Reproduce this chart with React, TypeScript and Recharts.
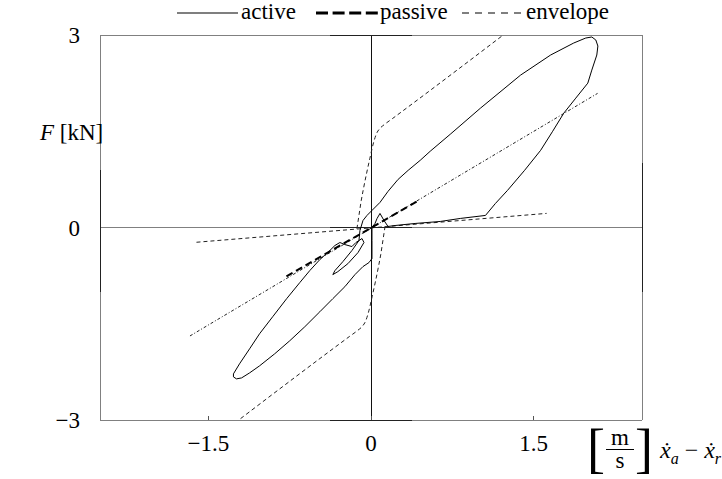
import React from 'react';
import { ComposedChart, Line, XAxis, YAxis, ReferenceLine } from 'recharts';

// active (controlled) force-velocity loop
const activeX = [
  -1.269, -1.213, -1.12, -1.028, -0.907, -0.778, -0.657, -0.565, -0.472, -0.38,
  -0.333, -0.287, -0.241, -0.176, -0.139, -0.083, -0.065, -0.12, -0.213, -0.306,
  -0.352, -0.333, -0.259, -0.176, -0.111, -0.102, -0.074, -0.037, 0.009, 0.083,
  0.157, 0.25, 0.343, 0.454, 0.546, 0.731, 1.009, 1.38, 1.657, 1.87, 1.981,
  2.037, 2.074, 2.093, 2.083, 2.037, 2.0, 1.889, 1.778, 1.676, 1.565,
  1.417, 1.259, 1.148, 1.056, 0.824, 0.639, 0.407, 0.222, 0.157, 0.12,
  0.083, 0.056, 0.037, 0.009, 0.009, 0.009, -0.019, -0.074, -0.148, -0.241,
  -0.352, -0.472, -0.611, -0.75, -0.889, -1.028, -1.12, -1.194, -1.241, -1.269,
  -1.269,
];
const activeY = [
  -2.281, -2.125, -1.891, -1.656, -1.391, -1.109, -0.859, -0.672, -0.5, -0.359,
  -0.281, -0.234, -0.266, -0.297, -0.234, -0.172, -0.234, -0.391, -0.563, -0.688,
  -0.734, -0.672, -0.531, -0.359, -0.203, -0.047, 0.109, 0.188, 0.266, 0.391,
  0.563, 0.75, 0.891, 1.047, 1.188, 1.453, 1.859, 2.375, 2.688, 2.875, 2.953,
  2.969, 2.922, 2.828, 2.688, 2.453, 2.25, 2.016, 1.781, 1.5, 1.203,
  0.891, 0.578, 0.375, 0.188, 0.141, 0.094, 0.063, 0.031, 0.016, 0.109,
  0.219, 0.141, 0.063, 0.0, -0.203, -0.484, -0.547, -0.609, -0.734, -0.922,
  -1.109, -1.313, -1.547, -1.766, -1.969, -2.156, -2.266, -2.344, -2.359, -2.328,
  -2.281,
];

// passive damper
const passiveX = [-0.78, 0.45];
const passiveY = [-0.76, 0.43];

// envelopes
const upperX = [-0.13, -0.11, -0.09, -0.07, -0.04, -0.01, 0.02, 0.05, 0.08, 0.12, 0.2, 1.22];
const upperY = [-0.02, 0.2, 0.42, 0.6, 0.85, 1.08, 1.3, 1.46, 1.54, 1.6, 1.7, 3.0];
const lowerX = upperX.map((v) => -v);
const lowerY = upperY.map((v) => -v);
const flatX = [-1.61, 1.62];
const flatY = [-0.23, 0.22];
const midX = [-1.67, 2.09];
const midY = [-1.69, 2.09];

const xTicks = [-1.5, 0, 1.5];
const yTicks = [-3, 0, 3];
const xDomain = [-2.5, 2.5];
const yDomain = [-3, 3];

const FONT = '"Liberation Serif", serif';

const pts = (xs: number[], ys: number[]) => xs.map((x, i) => ({ x, y: ys[i] }));

const fmt = (v: number) => (v < 0 ? '\u2212' + Math.abs(v) : String(v));

const [x0, x1] = xDomain;
const [y0, y1] = yDomain;

// frame pieces: from, to, colour
const frame: [number, number, number, number, string][] = [
  [x0, y1, x1, y1, '#808080'],
  [x0, y0, x1, y0, '#808080'],
  [x0, y0, x0, y1, '#808080'],
  [x1, y0, x1, y1, '#808080'],
  [x0, 0, x1, 0, '#808080'],
  [0, y0, 0, y1, '#111'],
  [-0.38, y1, 0.38, y1, '#222'],
  [-0.38, y0, 0.38, y0, '#222'],
  [-0.38, 0, 0.38, 0, '#222'],
  [x0, -1.0, x0, 0.9, '#222'],
  [x1, -1.0, x1, 1.0, '#222'],
];

const App = () => {
  return (
    <div style={{ position: 'absolute', left: 0, top: 0, width: 722, height: 479, background: '#fff', fontFamily: FONT }}>
      <ComposedChart width={722} height={479} margin={{ top: 35, right: 80, left: 20, bottom: 19 }}>
        <XAxis
          type="number"
          dataKey="x"
          domain={xDomain}
          ticks={xTicks}
          tickFormatter={fmt}
          axisLine={false}
          tickLine={false}
          tickSize={0}
          tickMargin={15}
          height={40}
          tick={{ fontFamily: FONT, fontSize: 23, fill: '#000' }}
          allowDataOverflow
        />
        <YAxis
          type="number"
          dataKey="y"
          domain={yDomain}
          ticks={yTicks}
          tickFormatter={fmt}
          axisLine={false}
          tickLine={false}
          tickSize={0}
          tickMargin={20}
          width={80}
          tick={{ fontFamily: FONT, fontSize: 23, fill: '#000' }}
          allowDataOverflow
        />

        {frame.map(([ax, ay, bx, by, c], i) => (
          <ReferenceLine
            key={'f' + i}
            segment={[{ x: ax, y: ay }, { x: bx, y: by }]}
            stroke={c}
            strokeWidth={1}
            shapeRendering="crispEdges"
            ifOverflow="visible"
          />
        ))}
        {xTicks.map((t) => (
          <ReferenceLine
            key={'t' + t}
            segment={[{ x: t, y: y0 }, { x: t, y: y0 + 0.07 }]}
            stroke="#555"
            shapeRendering="crispEdges"
            ifOverflow="visible"
          />
        ))}

        <Line data={pts(flatX, flatY)} dataKey="y" stroke="#222" strokeWidth={1} strokeDasharray="4 3" dot={false} isAnimationActive={false} />
        <Line data={pts(midX, midY)} dataKey="y" stroke="#222" strokeWidth={1} strokeDasharray="3 2 1 2" dot={false} isAnimationActive={false} />
        <Line data={pts(upperX, upperY)} dataKey="y" type="monotone" stroke="#222" strokeWidth={1} strokeDasharray="4 3" dot={false} isAnimationActive={false} />
        <Line data={pts(lowerX, lowerY)} dataKey="y" type="monotone" stroke="#222" strokeWidth={1} strokeDasharray="4 3" dot={false} isAnimationActive={false} />
        <Line data={pts(passiveX, passiveY)} dataKey="y" stroke="#000" strokeWidth={2} strokeDasharray="7 4" dot={false} isAnimationActive={false} />
        <Line data={pts(activeX, activeY)} dataKey="y" stroke="#000" strokeWidth={1} dot={false} isAnimationActive={false} />
      </ComposedChart>

      {/* legend */}
      <div style={{ position: 'absolute', left: 0, top: 0, width: 722, height: 28, fontSize: 23, color: '#000' }}>
        <svg style={{ position: 'absolute', left: 177, top: 10 }} width={61} height={6}>
          <line x1={0} y1={3} x2={61} y2={3} stroke="#000" strokeWidth={1.2} />
        </svg>
        <span style={{ position: 'absolute', left: 241, top: 0, lineHeight: '24px' }}>active</span>
        <svg style={{ position: 'absolute', left: 316, top: 10 }} width={62} height={6}>
          <line x1={0} y1={3} x2={62} y2={3} stroke="#000" strokeWidth={3} strokeDasharray="12 4.6" />
        </svg>
        <span style={{ position: 'absolute', left: 380, top: 0, lineHeight: '24px' }}>passive</span>
        <svg style={{ position: 'absolute', left: 462, top: 10 }} width={60} height={6}>
          <line x1={0} y1={3} x2={60} y2={3} stroke="#000" strokeWidth={1.2} strokeDasharray="7 6" />
        </svg>
        <span style={{ position: 'absolute', left: 526, top: 0, lineHeight: '24px' }}>envelope</span>
      </div>

      {/* y label */}
      <div style={{ position: 'absolute', left: 40, top: 120, fontSize: 23, lineHeight: '26px', color: '#000' }}>
        <i>F</i> [kN]
      </div>

      {/* x label */}
      <div style={{ position: 'absolute', left: 587, top: 421, height: 56, display: 'flex', alignItems: 'center', fontSize: 23, lineHeight: 1, color: '#000' }}>
        <span style={{ fontSize: 54, lineHeight: '54px', fontWeight: 300 }}>[</span>
        <span style={{ display: 'inline-flex', flexDirection: 'column', alignItems: 'center', margin: '0 1px' }}>
          <span style={{ lineHeight: '22px' }}>m</span>
          <span style={{ width: 28, borderTop: '1.4px solid #000' }} />
          <span style={{ lineHeight: '22px' }}>s</span>
        </span>
        <span style={{ fontSize: 54, lineHeight: '54px', fontWeight: 300 }}>]</span>
        <span style={{ marginLeft: 7, marginTop: 6, fontSize: 24 }}>
          <i>ẋ</i>
          <sub style={{ fontSize: 16, fontStyle: 'italic' }}>a</sub>
          {' \u2212 '}
          <i>ẋ</i>
          <sub style={{ fontSize: 16, fontStyle: 'italic' }}>r</sub>
        </span>
      </div>
    </div>
  );
};

export default App;
